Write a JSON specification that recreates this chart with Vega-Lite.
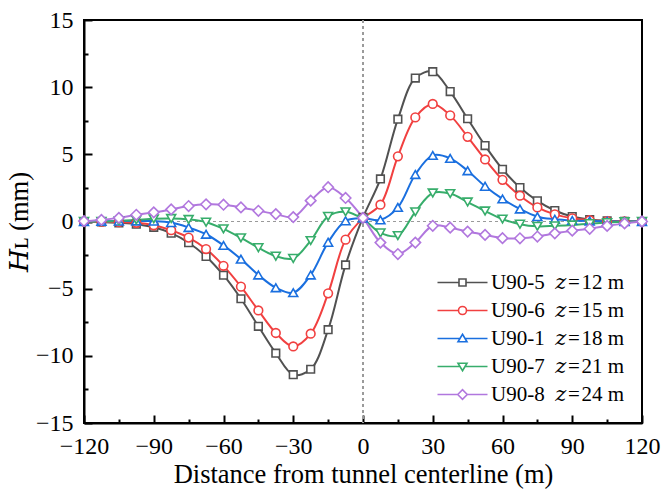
{
  "$schema": "https://vega.github.io/schema/vega-lite/v6.json",
  "width": 558,
  "height": 403,
  "autosize": {"type": "none"},
  "padding": {"left": 84, "top": 20, "right": 20, "bottom": 66},
  "background": "white",
  "config": {
    "view": {"stroke": "black", "strokeWidth": 2},
    "font": "Liberation Serif",
    "axis": {
      "domainColor": "black", "domainWidth": 2, "tickColor": "black", "tickWidth": 2,
      "labelColor": "black", "titleColor": "black", "grid": false,
      "labelFont": "Liberation Serif", "titleFont": "Liberation Serif, DejaVu Serif",
      "labelFontSize": 24, "titleFontSize": 26.5, "titleFontWeight": "normal", "labelFlush": false
    }
  },
  "datasets": {
    "d": [
      {"x": -120, "s": "U90-5", "y": 0}, {"x": -112.5, "s": "U90-5", "y": -0.03}, {"x": -105, "s": "U90-5", "y": -0.1}, {"x": -97.5, "s": "U90-5", "y": -0.2}, {"x": -90, "s": "U90-5", "y": -0.43}, {"x": -82.5, "s": "U90-5", "y": -0.87}, {"x": -75, "s": "U90-5", "y": -1.58}, {"x": -67.5, "s": "U90-5", "y": -2.6}, {"x": -60, "s": "U90-5", "y": -4.0}, {"x": -52.5, "s": "U90-5", "y": -5.75}, {"x": -45, "s": "U90-5", "y": -7.8}, {"x": -37.5, "s": "U90-5", "y": -9.8}, {"x": -30, "s": "U90-5", "y": -11.4}, {"x": -22.5, "s": "U90-5", "y": -11.0}, {"x": -15, "s": "U90-5", "y": -8.05}, {"x": -7.5, "s": "U90-5", "y": -3.23}, {"x": 0, "s": "U90-5", "y": 0.3}, {"x": 7.5, "s": "U90-5", "y": 3.17}, {"x": 15, "s": "U90-5", "y": 7.62}, {"x": 22.5, "s": "U90-5", "y": 10.68}, {"x": 30, "s": "U90-5", "y": 11.15}, {"x": 37.5, "s": "U90-5", "y": 9.67}, {"x": 45, "s": "U90-5", "y": 7.65}, {"x": 52.5, "s": "U90-5", "y": 5.65}, {"x": 60, "s": "U90-5", "y": 3.89}, {"x": 67.5, "s": "U90-5", "y": 2.53}, {"x": 75, "s": "U90-5", "y": 1.54}, {"x": 82.5, "s": "U90-5", "y": 0.82}, {"x": 90, "s": "U90-5", "y": 0.37}, {"x": 97.5, "s": "U90-5", "y": 0.15}, {"x": 105, "s": "U90-5", "y": 0.05}, {"x": 112.5, "s": "U90-5", "y": 0.01}, {"x": 120, "s": "U90-5", "y": 0},
      {"x": -120, "s": "U90-6", "y": 0}, {"x": -112.5, "s": "U90-6", "y": -0.02}, {"x": -105, "s": "U90-6", "y": -0.05}, {"x": -97.5, "s": "U90-6", "y": -0.1}, {"x": -90, "s": "U90-6", "y": -0.28}, {"x": -82.5, "s": "U90-6", "y": -0.65}, {"x": -75, "s": "U90-6", "y": -1.2}, {"x": -67.5, "s": "U90-6", "y": -2.05}, {"x": -60, "s": "U90-6", "y": -3.3}, {"x": -52.5, "s": "U90-6", "y": -4.85}, {"x": -45, "s": "U90-6", "y": -6.62}, {"x": -37.5, "s": "U90-6", "y": -8.3}, {"x": -30, "s": "U90-6", "y": -9.3}, {"x": -22.5, "s": "U90-6", "y": -8.35}, {"x": -15, "s": "U90-6", "y": -5.35}, {"x": -7.5, "s": "U90-6", "y": -1.35}, {"x": 0, "s": "U90-6", "y": 0.25}, {"x": 7.5, "s": "U90-6", "y": 1.25}, {"x": 15, "s": "U90-6", "y": 4.85}, {"x": 22.5, "s": "U90-6", "y": 7.75}, {"x": 30, "s": "U90-6", "y": 8.75}, {"x": 37.5, "s": "U90-6", "y": 7.9}, {"x": 45, "s": "U90-6", "y": 6.3}, {"x": 52.5, "s": "U90-6", "y": 4.62}, {"x": 60, "s": "U90-6", "y": 3.1}, {"x": 67.5, "s": "U90-6", "y": 1.92}, {"x": 75, "s": "U90-6", "y": 1.05}, {"x": 82.5, "s": "U90-6", "y": 0.53}, {"x": 90, "s": "U90-6", "y": 0.24}, {"x": 97.5, "s": "U90-6", "y": 0.1}, {"x": 105, "s": "U90-6", "y": 0.03}, {"x": 112.5, "s": "U90-6", "y": 0.01}, {"x": 120, "s": "U90-6", "y": 0},
      {"x": -120, "s": "U90-1", "y": 0}, {"x": -112.5, "s": "U90-1", "y": 0.02}, {"x": -105, "s": "U90-1", "y": 0.03}, {"x": -97.5, "s": "U90-1", "y": 0.04}, {"x": -90, "s": "U90-1", "y": 0.03}, {"x": -82.5, "s": "U90-1", "y": -0.08}, {"x": -75, "s": "U90-1", "y": -0.45}, {"x": -67.5, "s": "U90-1", "y": -0.95}, {"x": -60, "s": "U90-1", "y": -1.78}, {"x": -52.5, "s": "U90-1", "y": -2.8}, {"x": -45, "s": "U90-1", "y": -3.98}, {"x": -37.5, "s": "U90-1", "y": -4.93}, {"x": -30, "s": "U90-1", "y": -5.3}, {"x": -22.5, "s": "U90-1", "y": -3.98}, {"x": -15, "s": "U90-1", "y": -1.55}, {"x": -7.5, "s": "U90-1", "y": 0.05}, {"x": 0, "s": "U90-1", "y": 0.25}, {"x": 7.5, "s": "U90-1", "y": 0.12}, {"x": 15, "s": "U90-1", "y": 1.05}, {"x": 22.5, "s": "U90-1", "y": 3.5}, {"x": 30, "s": "U90-1", "y": 4.92}, {"x": 37.5, "s": "U90-1", "y": 4.7}, {"x": 45, "s": "U90-1", "y": 3.78}, {"x": 52.5, "s": "U90-1", "y": 2.62}, {"x": 60, "s": "U90-1", "y": 1.68}, {"x": 67.5, "s": "U90-1", "y": 0.93}, {"x": 75, "s": "U90-1", "y": 0.36}, {"x": 82.5, "s": "U90-1", "y": 0.17}, {"x": 90, "s": "U90-1", "y": 0.08}, {"x": 97.5, "s": "U90-1", "y": 0.04}, {"x": 105, "s": "U90-1", "y": 0.02}, {"x": 112.5, "s": "U90-1", "y": 0}, {"x": 120, "s": "U90-1", "y": 0},
      {"x": -120, "s": "U90-7", "y": 0}, {"x": -112.5, "s": "U90-7", "y": 0}, {"x": -105, "s": "U90-7", "y": 0.05}, {"x": -97.5, "s": "U90-7", "y": 0.12}, {"x": -90, "s": "U90-7", "y": 0.2}, {"x": -82.5, "s": "U90-7", "y": 0.22}, {"x": -75, "s": "U90-7", "y": 0.15}, {"x": -67.5, "s": "U90-7", "y": -0.05}, {"x": -60, "s": "U90-7", "y": -0.55}, {"x": -52.5, "s": "U90-7", "y": -1.22}, {"x": -45, "s": "U90-7", "y": -1.95}, {"x": -37.5, "s": "U90-7", "y": -2.58}, {"x": -30, "s": "U90-7", "y": -2.75}, {"x": -22.5, "s": "U90-7", "y": -1.42}, {"x": -15, "s": "U90-7", "y": 0.38}, {"x": -7.5, "s": "U90-7", "y": 0.72}, {"x": 0, "s": "U90-7", "y": 0.18}, {"x": 7.5, "s": "U90-7", "y": -0.85}, {"x": 15, "s": "U90-7", "y": -1.05}, {"x": 22.5, "s": "U90-7", "y": 0.72}, {"x": 30, "s": "U90-7", "y": 2.12}, {"x": 37.5, "s": "U90-7", "y": 2.08}, {"x": 45, "s": "U90-7", "y": 1.45}, {"x": 52.5, "s": "U90-7", "y": 0.78}, {"x": 60, "s": "U90-7", "y": 0.18}, {"x": 67.5, "s": "U90-7", "y": -0.2}, {"x": 75, "s": "U90-7", "y": -0.36}, {"x": 82.5, "s": "U90-7", "y": -0.32}, {"x": 90, "s": "U90-7", "y": -0.26}, {"x": 97.5, "s": "U90-7", "y": -0.16}, {"x": 105, "s": "U90-7", "y": -0.08}, {"x": 112.5, "s": "U90-7", "y": -0.02}, {"x": 120, "s": "U90-7", "y": 0},
      {"x": -120, "s": "U90-8", "y": 0.03}, {"x": -112.5, "s": "U90-8", "y": 0.12}, {"x": -105, "s": "U90-8", "y": 0.27}, {"x": -97.5, "s": "U90-8", "y": 0.5}, {"x": -90, "s": "U90-8", "y": 0.68}, {"x": -82.5, "s": "U90-8", "y": 0.9}, {"x": -75, "s": "U90-8", "y": 1.15}, {"x": -67.5, "s": "U90-8", "y": 1.28}, {"x": -60, "s": "U90-8", "y": 1.25}, {"x": -52.5, "s": "U90-8", "y": 1.05}, {"x": -45, "s": "U90-8", "y": 0.8}, {"x": -37.5, "s": "U90-8", "y": 0.55}, {"x": -30, "s": "U90-8", "y": 0.33}, {"x": -22.5, "s": "U90-8", "y": 1.55}, {"x": -15, "s": "U90-8", "y": 2.55}, {"x": -7.5, "s": "U90-8", "y": 1.75}, {"x": 0, "s": "U90-8", "y": 0.27}, {"x": 7.5, "s": "U90-8", "y": -1.57}, {"x": 15, "s": "U90-8", "y": -2.42}, {"x": 22.5, "s": "U90-8", "y": -1.57}, {"x": 30, "s": "U90-8", "y": -0.32}, {"x": 37.5, "s": "U90-8", "y": -0.46}, {"x": 45, "s": "U90-8", "y": -0.75}, {"x": 52.5, "s": "U90-8", "y": -1.0}, {"x": 60, "s": "U90-8", "y": -1.24}, {"x": 67.5, "s": "U90-8", "y": -1.25}, {"x": 75, "s": "U90-8", "y": -1.12}, {"x": 82.5, "s": "U90-8", "y": -0.88}, {"x": 90, "s": "U90-8", "y": -0.68}, {"x": 97.5, "s": "U90-8", "y": -0.54}, {"x": 105, "s": "U90-8", "y": -0.33}, {"x": 112.5, "s": "U90-8", "y": -0.14}, {"x": 120, "s": "U90-8", "y": 0}
    ]
  },
  "data": {"name": "d"},
  "layer": [
    {
      "mark": {"type": "rule", "color": "#9a9a9a", "strokeDash": [3, 3], "strokeWidth": 1},
      "encoding": {"x": {"datum": 0, "type": "quantitative", "scale": {"domain": [-120, 120], "nice": false}, "axis": null}}
    },
    {
      "mark": {"type": "rule", "color": "#9a9a9a", "strokeDash": [3, 3], "strokeWidth": 1},
      "encoding": {"y": {"datum": 0, "type": "quantitative", "scale": {"domain": [-15, 15], "nice": false}, "axis": null}}
    },
    {
      "mark": {"type": "line", "interpolate": "catmull-rom", "strokeWidth": 2},
      "encoding": {
        "x": {"field": "x", "type": "quantitative", "scale": {"domain": [-120, 120], "nice": false},
          "axis": {"orient": "bottom", "values": [-120, -90, -60, -30, 0, 30, 60, 90, 120], "tickSize": -8, "labelPadding": 19, "title": "Distance from tunnel centerline (m)", "titlePadding": 3}},
        "y": {"field": "y", "type": "quantitative", "scale": {"domain": [-15, 15], "nice": false},
          "axis": {"orient": "left", "values": [-15, -10, -5, 0, 5, 10, 15], "tickSize": -8, "labelPadding": 19, "title": "𝐻ʟ (mm)", "titlePadding": 2}},
        "stroke": {"field": "s", "type": "nominal", "scale": {"domain": ["U90-5", "U90-6", "U90-1", "U90-7", "U90-8"], "range": ["#515151", "#F14040", "#1A6FDF", "#37AD6B", "#B177DE"]}}
      }
    },
    {
      "transform": [{"filter": {"field": "s", "equal": "U90-5"}}],
      "mark": {"type": "point", "shape": "square", "size": 58, "filled": false, "fill": "white", "stroke": "#515151", "strokeWidth": 1.6, "opacity": 1},
      "encoding": {"x": {"field": "x", "type": "quantitative", "scale": {"domain": [-120, 120], "nice": false}, "axis": null}, "y": {"field": "y", "type": "quantitative", "scale": {"domain": [-15, 15], "nice": false}, "axis": null}}
    },
    {
      "transform": [{"filter": {"field": "s", "equal": "U90-6"}}],
      "mark": {"type": "point", "shape": "circle", "size": 75, "filled": false, "fill": "white", "stroke": "#F14040", "strokeWidth": 1.6, "opacity": 1},
      "encoding": {"x": {"field": "x", "type": "quantitative", "scale": {"domain": [-120, 120], "nice": false}, "axis": null}, "y": {"field": "y", "type": "quantitative", "scale": {"domain": [-15, 15], "nice": false}, "axis": null}}
    },
    {
      "transform": [{"filter": {"field": "s", "equal": "U90-1"}}],
      "mark": {"type": "point", "shape": "triangle-up", "size": 80, "filled": false, "fill": "white", "stroke": "#1A6FDF", "strokeWidth": 1.6, "opacity": 1},
      "encoding": {"x": {"field": "x", "type": "quantitative", "scale": {"domain": [-120, 120], "nice": false}, "axis": null}, "y": {"field": "y", "type": "quantitative", "scale": {"domain": [-15, 15], "nice": false}, "axis": null}}
    },
    {
      "transform": [{"filter": {"field": "s", "equal": "U90-7"}}],
      "mark": {"type": "point", "shape": "triangle-down", "size": 80, "filled": false, "fill": "white", "stroke": "#37AD6B", "strokeWidth": 1.6, "opacity": 1},
      "encoding": {"x": {"field": "x", "type": "quantitative", "scale": {"domain": [-120, 120], "nice": false}, "axis": null}, "y": {"field": "y", "type": "quantitative", "scale": {"domain": [-15, 15], "nice": false}, "axis": null}}
    },
    {
      "transform": [{"filter": {"field": "s", "equal": "U90-8"}}],
      "mark": {"type": "point", "shape": "diamond", "size": 110, "filled": false, "fill": "white", "stroke": "#B177DE", "strokeWidth": 1.6, "opacity": 1},
      "encoding": {"x": {"field": "x", "type": "quantitative", "scale": {"domain": [-120, 120], "nice": false}, "axis": null}, "y": {"field": "y", "type": "quantitative", "scale": {"domain": [-15, 15], "nice": false}, "axis": null}}
    },
    {
      "transform": [{"filter": "false"}],
      "mark": {"type": "point", "filled": false, "fill": "white", "strokeWidth": 1.6, "opacity": 1},
      "encoding": {
        "x": {"field": "x", "type": "quantitative", "scale": {"domain": [-120, 120], "nice": false},
          "axis": {"orient": "bottom", "values": [-105, -75, -45, -15, 15, 45, 75, 105], "tickSize": -4, "labels": false, "domain": false, "title": null}},
        "y": {"field": "y", "type": "quantitative", "scale": {"domain": [-15, 15], "nice": false},
          "axis": {"orient": "left", "values": [-12.5, -7.5, -2.5, 2.5, 7.5, 12.5], "tickSize": -4, "labels": false, "domain": false, "title": null}},
        "stroke": {"field": "s", "type": "nominal", "scale": {"domain": ["U90-5", "U90-6", "U90-1", "U90-7", "U90-8"], "range": ["#515151", "#F14040", "#1A6FDF", "#37AD6B", "#B177DE"]},
          "legend": {"orient": "none", "legendX": 368, "legendY": 252, "title": null, "padding": 0, "labelFont": "Liberation Serif, DejaVu Serif", "labelFontSize": 21, "labelColor": "black", "labelOffset": 18, "symbolSize": 100, "symbolStrokeWidth": 1.6, "symbolFillColor": "white", "symbolOpacity": 1, "rowPadding": 6,
            "labelExpr": "datum.label == 'U90-5' ? 'U90-5\u2002𝑧\u200a=\u200a12\u00a0m' : datum.label == 'U90-6' ? 'U90-6\u2002𝑧\u200a=\u200a15\u00a0m' : datum.label == 'U90-1' ? 'U90-1\u2002𝑧\u200a=\u200a18\u00a0m' : datum.label == 'U90-7' ? 'U90-7\u2002𝑧\u200a=\u200a21\u00a0m' : 'U90-8\u2002𝑧\u200a=\u200a24\u00a0m'"}},
        "shape": {"field": "s", "type": "nominal", "scale": {"domain": ["U90-5", "U90-6", "U90-1", "U90-7", "U90-8"], "range": [
          "M-5,0H-0.7M0.7,0H5M-0.7,-0.7H0.7V0.7H-0.7Z",
          "M-5,0H-0.8M0.8,0H5M-0.8,0A0.8,0.8 0 1,0 0.8,0A0.8,0.8 0 1,0 -0.8,0Z",
          "M-5,0H-0.5M0.5,0H5M0,-0.85L0.9,0.65H-0.9Z",
          "M-5,0H-0.5M0.5,0H5M0,0.85L0.9,-0.65H-0.9Z",
          "M-5,0H-0.95M0.95,0H5M-0.95,0L0,-0.95L0.95,0L0,0.95Z"]},
          "legend": {"orient": "none", "legendX": 368, "legendY": 252, "title": null, "padding": 0, "labelFont": "Liberation Serif, DejaVu Serif", "labelFontSize": 21, "labelColor": "black", "labelOffset": 18, "symbolSize": 100, "symbolStrokeWidth": 1.6, "symbolFillColor": "white", "symbolOpacity": 1, "rowPadding": 6,
            "labelExpr": "datum.label == 'U90-5' ? 'U90-5\u2002𝑧\u200a=\u200a12\u00a0m' : datum.label == 'U90-6' ? 'U90-6\u2002𝑧\u200a=\u200a15\u00a0m' : datum.label == 'U90-1' ? 'U90-1\u2002𝑧\u200a=\u200a18\u00a0m' : datum.label == 'U90-7' ? 'U90-7\u2002𝑧\u200a=\u200a21\u00a0m' : 'U90-8\u2002𝑧\u200a=\u200a24\u00a0m'"}}
      }
    }
  ],
  "resolve": {"axis": {"x": "independent", "y": "independent"}}
}
